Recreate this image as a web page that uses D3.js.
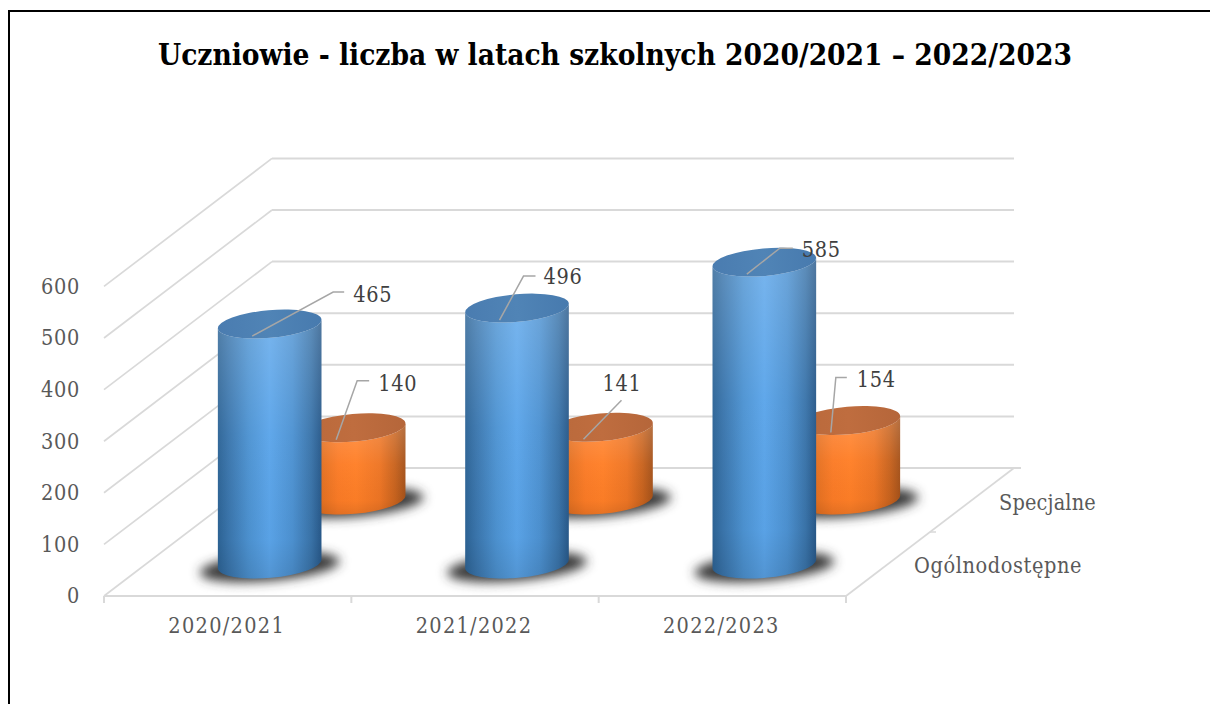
<!DOCTYPE html>
<html><head><meta charset="utf-8">
<script src="https://cdn.jsdelivr.net/npm/d3@7"></script>
<style>html,body{margin:0;padding:0;background:#fff}svg{display:block}</style>
</head><body><svg id="c" width="1210" height="704"></svg>
<script>
const titleText = "Uczniowie - liczba w latach szkolnych 2020/2021 – 2022/2023";
const categories = ["2020/2021", "2021/2022", "2022/2023"];
const depthNames = ["Ogólnodostępne", "Specjalne"];
const ogolnodostepne = [465, 496, 585];
const specjalne = [140, 141, 154];
const valueTicks = [0, 100, 200, 300, 400, 500, 600];

const FONT = "'DejaVu Serif Condensed','DejaVu Serif',serif";
const svg = d3.select("#c");
const defs = svg.append("defs");

// frame
svg.append("path").attr("d","M9 704V11H1210").attr("fill","none").attr("stroke","#000").attr("stroke-width",2);
svg.append("text").attr("x",615).attr("y",65).attr("text-anchor","middle")
  .attr("font-family",FONT).attr("font-weight","bold").attr("font-size",30).attr("fill","#000")
  .attr("textLength",914).attr("lengthAdjust","spacingAndGlyphs").text(titleText);

// scales
const x = d3.scaleBand().domain(categories).range([104,846]);
const y = d3.scaleLinear().domain([0,600]).range([596,286.4]);
const depthX = d3.scaleLinear().domain([0,1]).range([0,168]);
const depthY = d3.scaleLinear().domain([0,1]).range([0,128]);
const proj = (px,val,z)=>[px+depthX(z), y(val)-depthY(z)];

// grid
const grid = svg.append("g").attr("fill","none").attr("stroke","#d9d9d9");
valueTicks.forEach(v=>{
  const a=proj(104,v,0), b=proj(104,v,1), c=proj(846,v,1);
  grid.append("path").attr("stroke-width",1.7).attr("d",`M${a}L${b}`);
  grid.append("path").attr("stroke-width",2).attr("d",`M${b}L${c[0]+(v===0?7:0)},${c[1]}`);
});
const f0=proj(104,0,0), f1=proj(846,0,0), f2=proj(846,0,1);
grid.append("path").attr("stroke-width",2).attr("d",`M${f0}L${f1}`);
grid.append("path").attr("stroke-width",1.7).attr("d",`M${f1}L${f2}`);
[...categories.map(c=>x(c)), 846].forEach(px=>{
  grid.append("path").attr("stroke-width",2).attr("d",`M${px},596V603`);
});
const mid=proj(846,0,0.5);
grid.append("path").attr("stroke-width",1.5).attr("d",`M${mid}h6`);

// gradients
function hGrad(id,stops){
  const g=defs.append("linearGradient").attr("id",id).attr("x1",0).attr("x2",1).attr("y1",0).attr("y2",0);
  stops.forEach(s=>g.append("stop").attr("offset",s[0]).attr("stop-color",s[1]));
}
function vGrad(id,stops){
  const g=defs.append("linearGradient").attr("id",id).attr("x1",0).attr("x2",0).attr("y1",0).attr("y2",1);
  stops.forEach(s=>g.append("stop").attr("offset",s[0]).attr("stop-color",s[1]).attr("stop-opacity",s[2]));
}
hGrad("blueBody",[[0,"#2d6496"],[0.1,"#3a75ac"],[0.3,"#4d93d2"],[0.5,"#5ba5ea"],[0.72,"#4d92d2"],[0.9,"#3a74aa"],[1,"#28598a"]]);
hGrad("orangeBody",[[0,"#b85c1c"],[0.12,"#d96c20"],[0.35,"#fb7b26"],[0.52,"#ff7f27"],[0.75,"#ee7524"],[0.9,"#c8631e"],[1,"#a5521a"]]);
vGrad("sheen",[[0,"#fff",0.18],[0.45,"#fff",0.03],[0.85,"#000",0.02],[1,"#000",0.1]]);
hGrad("blueTop",[[0,"#4a7cb0"],[0.5,"#5084b6"],[1,"#477aae"]]);
hGrad("orangeTop",[[0,"#b9693b"],[0.5,"#bf6d3f"],[1,"#b5663a"]]);
const blur=defs.append("filter").attr("id","blur").attr("x","-30%").attr("y","-100%").attr("width","160%").attr("height","300%");
blur.append("feGaussianBlur").attr("stdDeviation",5.5);

const RX=52, RY=13.8, TILT=-5;
const ex=RX*Math.cos(TILT*Math.PI/180), ey=-RX*Math.sin(TILT*Math.PI/180);
function cylinder(cat,val,z,body,top){
  const px=x(cat)+x.bandwidth()/2;
  const [cx,by]=proj(px,0,z), [,ty]=proj(px,val,z);
  const g=svg.append("g");
  g.append("ellipse").attr("cx",cx).attr("cy",by+3).attr("rx",RX+18).attr("ry",RY)
    .attr("transform",`rotate(${TILT} ${cx} ${by+3})`).attr("fill","#383838").attr("filter","url(#blur)");
  const d=`M${cx-ex},${ty+ey}L${cx-ex},${by+ey}A${RX},${RY} ${TILT} 0 0 ${cx+ex},${by-ey}L${cx+ex},${ty-ey}A${RX},${RY} ${TILT} 0 1 ${cx-ex},${ty+ey}Z`;
  g.append("path").attr("d",d).attr("fill",`url(#${body})`);
  g.append("path").attr("d",d).attr("fill","url(#sheen)");
  g.append("ellipse").attr("cx",cx).attr("cy",ty).attr("rx",RX).attr("ry",RY)
    .attr("transform",`rotate(${TILT} ${cx} ${ty})`).attr("fill",`url(#${top})`);
  return [cx,ty];
}
const tops = {};
categories.forEach((c,i)=>{ tops["s"+i]=cylinder(c,specjalne[i],0.75,"orangeBody","orangeTop"); });
categories.forEach((c,i)=>{ tops["o"+i]=cylinder(c,ogolnodostepne[i],0.25,"blueBody","blueTop"); });

// axes
const axL=svg.append("g").attr("transform","translate(104,0)")
  .call(d3.axisLeft(y).tickValues(valueTicks).tickSize(0).tickPadding(24));
const axB=svg.append("g").attr("transform","translate(0,596)")
  .call(d3.axisBottom(x).tickSize(0).tickPadding(22));
axL.select(".domain").remove(); axB.select(".domain").remove();
axL.selectAll("text").attr("font-family",FONT).attr("font-size",21.5).attr("fill","#595959").style("letter-spacing","0.7px");
axB.selectAll("text").attr("font-family",FONT).attr("font-size",21.5).attr("fill","#595959").style("letter-spacing","1.3px").attr("dx",-1);

const depthX0=[914,999], depthBase=[573,510], depthSpacing=["0.6px","0.15px"];
depthNames.forEach((n,i)=>{
  svg.append("text").attr("x",depthX0[i]).attr("y",depthBase[i])
    .attr("font-family",FONT).attr("font-size",21.5).attr("fill","#595959").style("letter-spacing",depthSpacing[i]).text(n);
});

// data labels with leaders: offsets relative to the cylinder top
const leaderElbows={
  o0:[[81,-44],[92,-44],[101,-41]], o1:[[24,-44],[36,-44],[44,-43]], o2:[[33,-26],[46,-26],[55,-24]],
  s0:[[21,-59],[33,-59],[42,-56]], s1:[[38,-39],[38,-39],[19,-56]], s2:[[5,-55],[16,-55],[26,-53]]
};
function dataLabel(key,val){
  const [cx,ty]=tops[key], ax=cx-17.5, ay=ty+12, e=leaderElbows[key];
  svg.append("path").attr("fill","none").attr("stroke","#a6a6a6").attr("stroke-width",1.5)
    .attr("d",`M${ax},${ay}L${ax+e[0][0]},${ay+e[0][1]}L${ax+e[1][0]},${ay+e[1][1]}`);
  svg.append("text").attr("x",ax+e[2][0]).attr("y",ay+e[2][1]).attr("dy","0.34em")
    .attr("font-family",FONT).attr("font-size",21.5).attr("fill","#404040").style("letter-spacing","0.7px").text(val);
}
ogolnodostepne.forEach((v,i)=>dataLabel("o"+i,v));
specjalne.forEach((v,i)=>dataLabel("s"+i,v));
</script></body></html>
